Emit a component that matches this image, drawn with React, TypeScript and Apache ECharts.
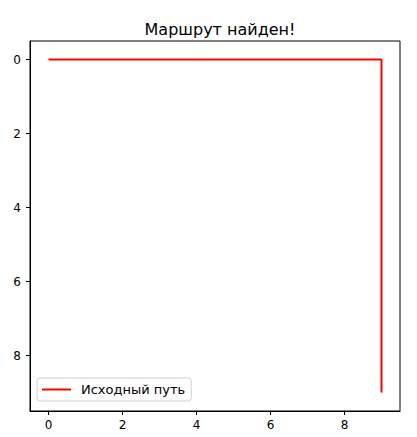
import React, { useEffect, useRef } from "react";
import * as echarts from "echarts";

const titleText = "Маршрут найден!";
const seriesName = "Исходный путь";
const pathX = [0, 1, 2, 3, 4, 5, 6, 7, 8, 9, 9, 9, 9, 9, 9, 9, 9, 9, 9];
const pathY = [0, 0, 0, 0, 0, 0, 0, 0, 0, 0, 1, 2, 3, 4, 5, 6, 7, 8, 9];
const xTicks = [0, 2, 4, 6, 8];
const yTicks = [0, 2, 4, 6, 8];

export default function App() {
  const ref = useRef<HTMLDivElement>(null);
  useEffect(() => {
    if (!ref.current) return;
    const chart = echarts.init(ref.current, null, { renderer: "svg" });
    const font = "DejaVu Sans";
    chart.setOption({
      animation: false,
      backgroundColor: "#ffffff",
      title: {
        text: titleText,
        left: 215,
        textAlign: "center",
        top: 16,
        textStyle: { fontFamily: font, fontSize: 16, fontWeight: "normal", color: "#000" },
      },
      grid: {
        left: 30,
        top: 41,
        width: 370,
        height: 370,
        show: true,
        borderColor: "#000",
        borderWidth: 1,
        containLabel: false,
      },
      legend: {
        left: 37,
        top: 378,
        orient: "vertical",
        backgroundColor: "#fff",
        borderColor: "#d0d0d0",
        borderWidth: 1,
        borderRadius: 3,
        padding: [5, 6, 5, 5],
        itemWidth: 29,
        itemHeight: 10,
        itemGap: 10,
        textStyle: { fontFamily: font, fontSize: 13, color: "#000", padding: [0, 0, 0, 5] },
        data: [{ name: seriesName, icon: "path://M0,0 L29,0 L29,2 L0,2 Z" }],
        itemStyle: { color: "#ff0000" },
      },
      xAxis: {
        type: "value",
        min: -0.5,
        max: 9.5,
        axisLine: { show: true, onZero: false, lineStyle: { color: "#000", width: 1 } },
        axisTick: { show: true, customValues: xTicks, length: 4, inside: false, lineStyle: { color: "#000" } },
        axisLabel: { customValues: xTicks, fontFamily: font, fontSize: 12, color: "#000", margin: 8 },
        splitLine: { show: false },
      },
      yAxis: {
        type: "value",
        inverse: true,
        min: -0.5,
        max: 9.5,
        axisLine: { show: true, onZero: false, lineStyle: { color: "#000", width: 1 } },
        axisTick: { show: true, customValues: yTicks, length: 4, inside: false, lineStyle: { color: "#000" } },
        axisLabel: { customValues: yTicks, fontFamily: font, fontSize: 12, color: "#000", margin: 9 },
        splitLine: { show: false },
      },
      series: [
        {
          name: seriesName,
          type: "line",
          data: pathX.map((x, i) => [x, pathY[i]]),
          symbol: "none",
          lineStyle: { color: "#ff0000", width: 2 },
          itemStyle: { color: "#ff0000" },
        },
      ],
    });
    return () => chart.dispose();
  }, []);
  return <div ref={ref} style={{ width: 417, height: 437, position: "absolute", left: 0, top: 0 }} />;
}
